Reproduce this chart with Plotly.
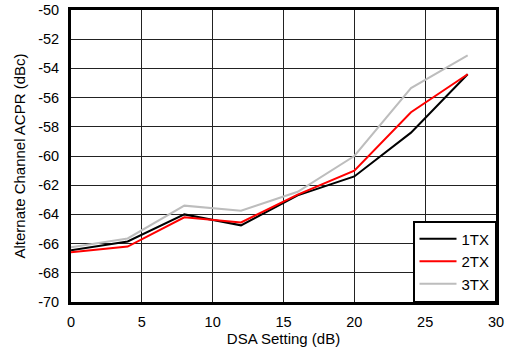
import plotly.graph_objects as go

dsa = [0, 4, 8, 12, 16, 20, 24, 28]
tx1 = [-66.45, -65.85, -64.0, -64.75, -62.7, -61.4, -58.4, -54.4]
tx2 = [-66.6, -66.2, -64.2, -64.55, -62.65, -61.0, -57.0, -54.4]
tx3 = [-66.25, -65.65, -63.4, -63.75, -62.45, -60.0, -55.35, -53.1]
names = ["1TX", "2TX", "3TX"]
colors = ["#000000", "#ff0000", "#bdbdbd"]
x_ticks = [0, 5, 10, 15, 20, 25, 30]
y_ticks = [-70, -68, -66, -64, -62, -60, -58, -56, -54, -52, -50]
y_ticktext = [str(v) for v in y_ticks]

fig = go.Figure()
for name, ys, c in zip(names, [tx1, tx2, tx3], colors):
    fig.add_trace(go.Scatter(x=dsa, y=ys, mode="lines", name=name,
                             line=dict(color=c, width=2)))

font = "Liberation Sans, Arial, Helvetica, sans-serif"
fig.update_layout(
    width=508, height=347,
    margin=dict(l=71, r=12, t=10, b=45, autoexpand=False),
    paper_bgcolor="white", plot_bgcolor="white",
    font=dict(family=font, size=14.5, color="black"),
    showlegend=True,
    legend=dict(x=1, y=0, xanchor="right", yanchor="bottom",
                bordercolor="black", borderwidth=1.5, bgcolor="white",
                font=dict(size=15), itemwidth=37),
    xaxis=dict(range=[0, 30], tickvals=x_ticks, showgrid=True, gridcolor="#222222", gridwidth=1,
               showline=True, linecolor="black", linewidth=3, mirror=True, automargin=False,
               zeroline=False, ticks="", ticklabelstandoff=5,
               title=dict(text="DSA Setting (dB)", standoff=0, font=dict(size=15))),
    yaxis=dict(range=[-70, -50], tickvals=y_ticks, ticktext=y_ticktext, showgrid=True,
               gridcolor="#222222", gridwidth=1, automargin=False,
               showline=True, linecolor="black", linewidth=3, mirror=True,
               zeroline=False, ticks="", ticklabelstandoff=6,
               title=dict(text="Alternate Channel ACPR (dBc)", standoff=9, font=dict(size=15))),
)
fig.write_html("out.html", config={"displayModeBar": False},
               post_script="document.body.style.margin='0';document.body.style.overflow='hidden';")
